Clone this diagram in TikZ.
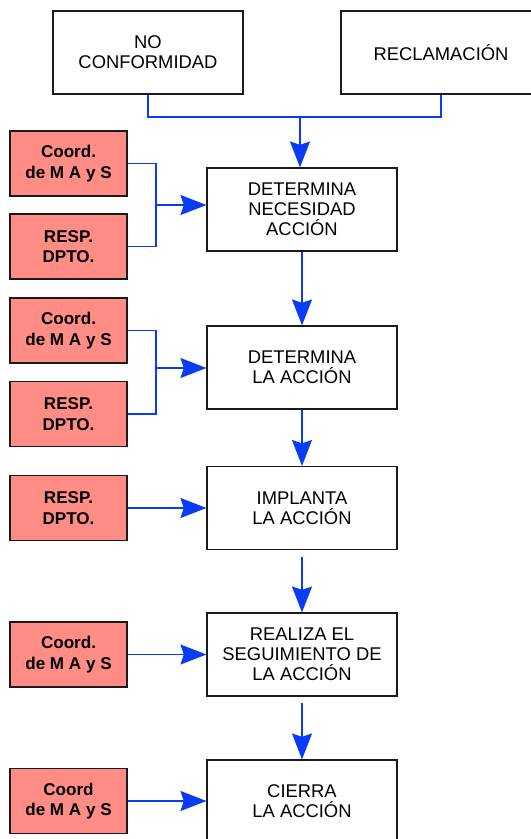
\documentclass[tikz,border=0pt]{standalone}
\usepackage{fontspec}
\setmainfont{Liberation Sans}
\usetikzlibrary{arrows.meta}

\definecolor{respred}{HTML}{FF8C85}
\definecolor{linkblue}{HTML}{0A3CF5}
\definecolor{boxline}{HTML}{1A1A1A}

\begin{document}
\begin{tikzpicture}[x=0.75pt, y=-0.75pt,
		stepbox/.style={rectangle, draw=boxline, line width=0.8pt, fill=white,
			minimum width=142.5pt, minimum height=62.25pt, align=center,
			font=\fontsize{13.8}{15}\selectfont},
		respbox/.style={rectangle, draw=boxline, line width=0.8pt, fill=respred,
			minimum width=87.75pt, minimum height=48.75pt, align=center,
			font=\fontsize{12.8}{15.5}\selectfont\bfseries},
		link/.style={draw=linkblue, line width=0.8pt},
		arr/.style={link, line width=1pt, -{Stealth[length=19.5pt, width=15pt, inset=2.5pt]}}]
			\useasboundingbox (0,0) rectangle (531,839);
			\clip (0,0) rectangle (531,839);

			{ [stepbox]
				\node[stepbox] (nc) at (148,52.5) {NO\\CONFORMIDAD};
				\node[stepbox, minimum width=150pt] (rec) at (441,52.5) {RECLAMACIÓN};
				\node[stepbox] (det1) at (302,209.5) {DETERMINA\\NECESIDAD\\ACCIÓN};
				\node[stepbox] (det2) at (302,367.5) {DETERMINA\\LA ACCIÓN};
				\node[stepbox] (imp) at (302,508) {IMPLANTA\\LA ACCIÓN};
				\node[stepbox] (real) at (302,654.5) {REALIZA EL\\SEGUIMIENTO DE\\LA ACCIÓN};
				\node[stepbox] (cie) at (302,801.5) {CIERRA\\LA ACCIÓN};
			}

			{ [respbox]
				\node[respbox] (c1) at (68.5,163.5) {Coord.\\de M A y S};
				\node[respbox] (r1) at (68.5,246.5) {RESP.\\DPTO.};
				\node[respbox] (c2) at (68.5,330.5) {Coord.\\de M A y S};
				\node[respbox] (r2) at (68.5,414) {RESP.\\DPTO.};
				\node[respbox] (r3) at (68.5,508) {RESP.\\DPTO.};
				\node[respbox] (c3) at (68.5,654.5) {Coord.\\de M A y S};
				\node[respbox] (c4) at (68.5,801) {Coord\\de M A y S};
			}

			\coordinate (merge) at (300,117);
			\coordinate (j1) at (156,205);
			\coordinate (j2) at (156,368);

			% entradas
			\draw[link] (nc.south) |- (merge) -| (rec.south);
			\draw[arr] (merge) -- (merge |- det1.north);

			% responsables
			\draw[link] (c1.east) -| (j1) |- (r1.east);
			\draw[arr] (j1) -- (j1 -| det1.west);
			\draw[link] (c2.east) -| (j2) |- (r2.east);
			\draw[arr] (j2) -- (j2 -| det2.west);
			\draw[arr] (r3.east) -- (imp.west);
			\draw[arr] (c3.east) -- (real.west);
			\draw[arr] (c4.east) -- (c4.east -| cie.west);

			% secuencia
			\draw[arr] (det1.south) -- (det2.north);
			\draw[arr] (det2.south) -- (imp.north);
			\draw[arr, shorten <=5pt] (imp.south) -- (real.north);
			\draw[arr, shorten <=5pt] (real.south) -- (cie.north);
		\end{tikzpicture}
\end{document}
